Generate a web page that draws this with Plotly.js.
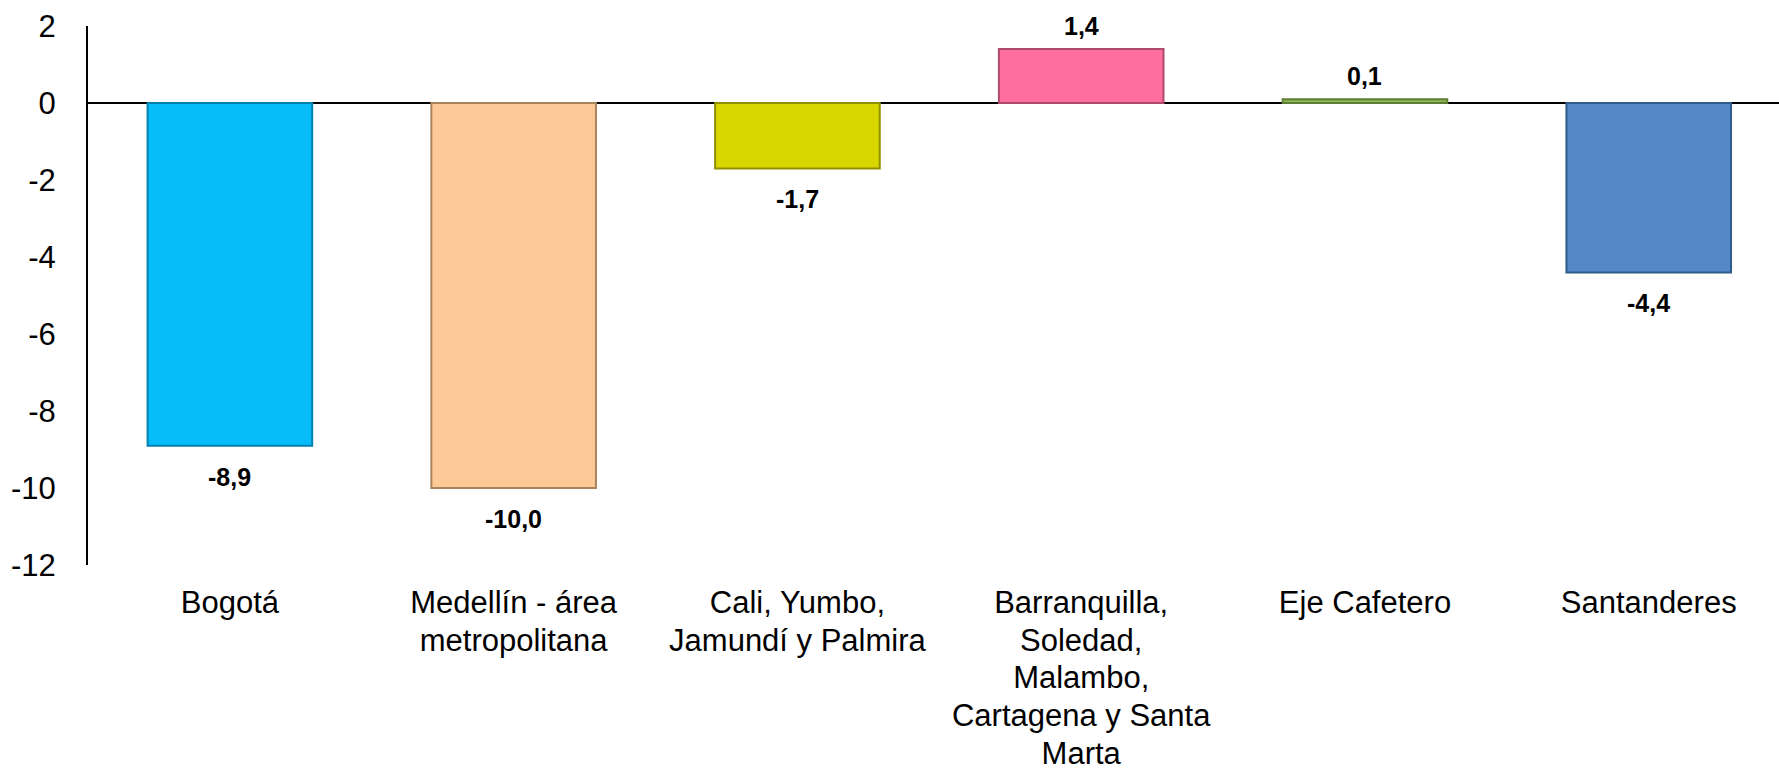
<!DOCTYPE html>
<html>
<head>
<meta charset="utf-8">
<script src="https://cdn.plot.ly/plotly-3.0.1.min.js"></script>
<style>html,body{margin:0;padding:0;background:#fff;}#chart{width:1779px;height:771px;}</style>
</head>
<body>
<div id="chart"></div>
<script>
// Data
const categories = [
  "Bogotá",
  "Medellín - área<br>metropolitana",
  "Cali, Yumbo,<br>Jamundí y Palmira",
  "Barranquilla,<br>Soledad,<br>Malambo,<br>Cartagena y Santa<br>Marta",
  "Eje Cafetero",
  "Santanderes"
];
const values = [-8.9, -10.0, -1.7, 1.4, 0.1, -4.4];
const barColors = ["#06BCFB", "#FDC996", "#D8D800", "#FF6E9E", "#8DB853", "#5588C8"];
const edgeColors = ["#0481AE", "#A8835E", "#8F8F00", "#B04A6C", "#5E7D36", "#2F5A8A"];
const yTicks = [2, 0, -2, -4, -6, -8, -10, -12];

const fontFam = "Arial, 'Liberation Sans', sans-serif";
const tickText = categories.map(c => '<span style="font-size:31px">' + c + '</span>');

const trace = {
  type: "bar",
  x: categories,
  y: values,
  width: 0.58,
  marker: { color: barColors, line: { color: edgeColors, width: 2 } },
  hoverinfo: "none"
};

const annotations = values.map((v, i) => ({
  x: categories[i],
  y: v,
  xref: "x",
  yref: "y",
  text: "<b>" + v.toFixed(1).replace(".", ",") + "</b>",
  showarrow: false,
  yanchor: "middle",
  yshift: v >= 0 ? 23 : -31,
  font: { family: fontFam, size: 25, color: "#000" }
}));

const layout = {
  width: 1779,
  height: 771,
  margin: { l: 88, r: 0, t: 26, b: 206, pad: 0 },
  paper_bgcolor: "#fff",
  plot_bgcolor: "#fff",
  showlegend: false,
  bargap: 0.42,
  xaxis: {
    type: "category",
    range: [-0.5, 5.459],
    tickvals: categories,
    ticktext: tickText,
    showgrid: false,
    zeroline: false,
    showline: false,
    ticks: "",
    ticklabelstandoff: 18,
    tickangle: 0,
    tickfont: { family: fontFam, size: 29, color: "#000" },
    fixedrange: true
  },
  yaxis: {
    range: [-12, 2],
    tickvals: yTicks,
    ticktext: yTicks.map(String),
    showgrid: false,
    zeroline: true,
    zerolinecolor: "#000",
    zerolinewidth: 2.5,
    showline: true,
    linecolor: "#000",
    linewidth: 2,
    ticks: "",
    ticklabelstandoff: 24,
    tickfont: { family: fontFam, size: 31, color: "#000" },
    fixedrange: true
  },
  annotations: annotations
};

Plotly.newPlot("chart", [trace], layout, { displayModeBar: false, staticPlot: true });
</script>
</body>
</html>
